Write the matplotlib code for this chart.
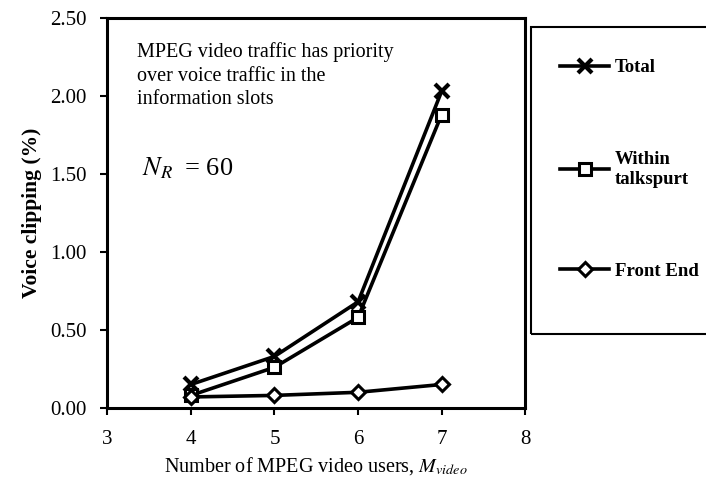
import matplotlib
matplotlib.use('Agg')
import matplotlib.pyplot as plt
from matplotlib.patches import Rectangle

plt.rcParams['font.family'] = ['Liberation Serif', 'DejaVu Serif']
plt.rcParams['mathtext.fontset'] = 'stix'

# values
m_video = [4, 5, 6, 7]
total = [0.15, 0.33, 0.68, 2.03]
within = [0.08, 0.26, 0.58, 1.88]
front_end = [0.07, 0.08, 0.10, 0.15]
labels = ['Total', 'Within\ntalkspurt', 'Front End']
yticks = [0.0, 0.5, 1.0, 1.5, 2.0, 2.5]
xticks = [3, 4, 5, 6, 7, 8]

fig = plt.figure(figsize=(7.06, 4.95), dpi=100)
ax = fig.add_axes([0.152, 0.176, 0.592, 0.788])

lw = 2.6
l1, = ax.plot(m_video, total, color='black', lw=lw, marker='x', ms=10, mew=3)
l2, = ax.plot(m_video, within, color='black', lw=lw, marker='s', ms=9, mew=2.2,
              mfc='white')
l3, = ax.plot(m_video, front_end, color='black', lw=lw, marker='D', ms=7, mew=2.2,
              mfc='white')

ax.set_xlim(3, 8)
ax.set_ylim(0, 2.5)
ax.set_xticks(xticks)
ax.set_yticks(yticks)
ax.set_yticklabels(['%.2f' % v for v in yticks])
ax.tick_params(labelsize=15, width=1.5, length=5, direction='out')
ax.tick_params(axis='y', pad=10)
ax.tick_params(axis='x', pad=11)
for s in ax.spines.values():
    s.set_linewidth(2.2)

ax.set_ylabel('Voice clipping (%)', fontsize=15.5, fontweight='bold', labelpad=6)
ax.set_xlabel(r'Number of MPEG video users, $M_{\mathit{video}}$', fontsize=14.5,
              labelpad=4)

ax.text(0.072, 0.937, 'MPEG video traffic has priority\nover voice traffic in the\n'
        'information slots', transform=ax.transAxes, fontsize=14.5, va='top',
        linespacing=1.3)
ax.text(0.083, 0.615, r'$N_R\;$ = 60', transform=ax.transAxes, fontsize=19,
        va='center')

# legend box on the right
fig.patches.append(Rectangle((0.752, 0.325), 0.3, 0.62, transform=fig.transFigure,
                             fill=False, edgecolor='black', lw=1.5))
fig.legend([l1, l2, l3], labels, loc='upper left', bbox_to_anchor=(0.77, 0.915),
           frameon=False, labelspacing=4.0, handlelength=2.6,
           handletextpad=0.3, prop={'weight': 'bold', 'size': 13.5})

fig.savefig('out.png', dpi=100)
